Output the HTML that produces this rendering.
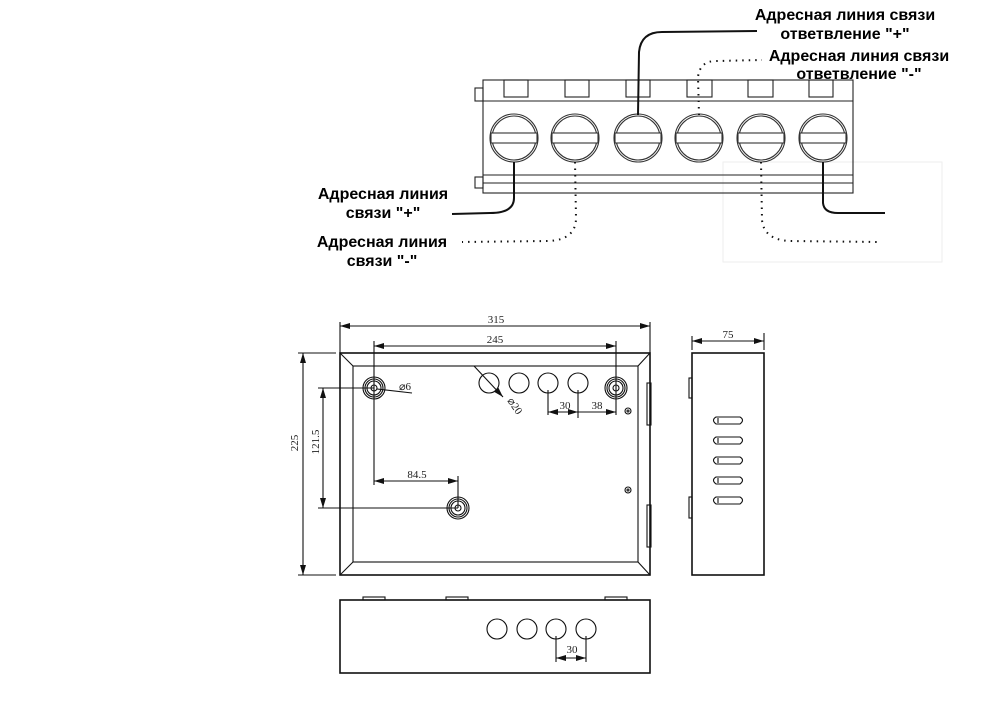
<!DOCTYPE html>
<html><head><meta charset="utf-8"><style>
body{margin:0;background:#fff}
svg{display:block}
.l{font-family:"Liberation Sans",Arial,sans-serif;font-weight:bold;font-size:16px;fill:#000}
.d{font-family:"Liberation Serif",serif;font-size:11px;fill:#222}
</style></head><body>
<svg width="995" height="707" viewBox="0 0 995 707" xmlns="http://www.w3.org/2000/svg">
<defs>
<marker id="a" viewBox="0 0 10 6" refX="10" refY="3" markerWidth="10" markerHeight="6" orient="auto-start-reverse" markerUnits="userSpaceOnUse"><path d="M0,0 L10,3 L0,6 z" fill="#111"/></marker>
</defs>
<rect x="723" y="162" width="219" height="100" fill="#fff" stroke="#eee" stroke-width="1"/>
<g stroke="#222" fill="none" stroke-width="1.1">
<rect x="483" y="80" width="370" height="113"/>
<line x1="483" y1="101" x2="853" y2="101"/>
<line x1="483" y1="175" x2="853" y2="175"/>
<line x1="483" y1="183" x2="853" y2="183"/>
<rect x="475" y="88" width="8" height="13"/>
<rect x="475" y="177" width="8" height="11"/>
<rect x="504" y="80" width="24" height="17"/>
<rect x="565" y="80" width="24" height="17"/>
<rect x="626" y="80" width="24" height="17"/>
<rect x="687" y="80" width="25" height="17"/>
<rect x="748" y="80" width="25" height="17"/>
<rect x="809" y="80" width="24" height="17"/>
</g>
<g stroke="#333" fill="#fff" stroke-width="1.1">
<g id="s"><circle cx="514" cy="138" r="24"/><circle cx="514" cy="138" r="22"/><rect x="491" y="133" width="46" height="10"/></g>
<use href="#s" x="61"/><use href="#s" x="124"/><use href="#s" x="185"/><use href="#s" x="247"/><use href="#s" x="309"/>
</g>
<g fill="none" stroke="#111" stroke-width="2">
<path d="M514,162 L514,198 Q514,213 490,213 L452,214"/>
<path d="M638,115 L639,52 Q641,32 662,32 L757,31"/>
<path d="M823,162 L823,203 Q824,213 838,213 L885,213"/>
</g>
<g fill="none" stroke="#111" stroke-width="2" stroke-dasharray="1.5 5">
<path d="M575,162 L576,218 Q576,240 548,241 L462,242"/>
<path d="M699,115 L698,77 Q700,61 716,61 L762,60"/>
<path d="M761,162 L762,220 Q764,240 790,241 L880,242"/>
</g>
<text class="l" x="845" y="20" text-anchor="middle">Адресная линия связи</text>
<text class="l" x="845" y="39" text-anchor="middle">ответвление "+"</text>
<text class="l" x="859" y="61" text-anchor="middle">Адресная линия связи</text>
<text class="l" x="859" y="79" text-anchor="middle">ответвление "-"</text>
<text class="l" x="383" y="199" text-anchor="middle">Адресная линия</text>
<text class="l" x="383" y="218" text-anchor="middle">связи "+"</text>
<text class="l" x="382" y="247" text-anchor="middle">Адресная линия</text>
<text class="l" x="382" y="266" text-anchor="middle">связи "-"</text>

<g stroke="#111" fill="none" stroke-width="1.1">
<rect x="340" y="353" width="310" height="222" stroke-width="1.6"/>
<rect x="353" y="366" width="285" height="196"/>
<line x1="340" y1="353" x2="353" y2="366"/><line x1="650" y1="353" x2="638" y2="366"/>
<line x1="340" y1="575" x2="353" y2="562"/><line x1="650" y1="575" x2="638" y2="562"/>
<rect x="647" y="383" width="4" height="42"/><rect x="647" y="505" width="4" height="42"/>
<g id="m"><circle cx="374" cy="388" r="11"/><circle cx="374" cy="388" r="9"/><circle cx="374" cy="388" r="7"/><circle cx="374" cy="388" r="3"/></g>
<use href="#m" x="242"/><use href="#m" x="84" y="120"/>
<circle cx="489" cy="383" r="10"/><circle cx="519" cy="383" r="10"/><circle cx="548" cy="383" r="10"/><circle cx="578" cy="383" r="10"/>
<circle cx="628" cy="411" r="3"/><circle cx="628" cy="411" r="1"/>
<circle cx="628" cy="490" r="3"/><circle cx="628" cy="490" r="1"/>
<line x1="340" y1="322" x2="340" y2="353"/><line x1="650" y1="322" x2="650" y2="353"/>
<line x1="340" y1="326" x2="650" y2="326" marker-start="url(#a)" marker-end="url(#a)"/>
<line x1="374" y1="341" x2="374" y2="485"/><line x1="616" y1="341" x2="616" y2="415"/>
<line x1="374" y1="346" x2="616" y2="346" marker-start="url(#a)" marker-end="url(#a)"/>
<line x1="548" y1="390" x2="548" y2="415"/><line x1="578" y1="390" x2="578" y2="418"/>
<line x1="548" y1="412" x2="578" y2="412" marker-start="url(#a)" marker-end="url(#a)"/>
<line x1="578" y1="412" x2="616" y2="412" marker-end="url(#a)"/>
<line x1="458" y1="476" x2="458" y2="508"/>
<line x1="374" y1="481" x2="458" y2="481" marker-start="url(#a)" marker-end="url(#a)"/>
<line x1="318" y1="388" x2="374" y2="388"/><line x1="318" y1="508" x2="458" y2="508"/>
<line x1="323" y1="388" x2="323" y2="508" marker-start="url(#a)" marker-end="url(#a)"/>
<line x1="298" y1="353" x2="336" y2="353"/><line x1="298" y1="575" x2="336" y2="575"/>
<line x1="303" y1="353" x2="303" y2="575" marker-start="url(#a)" marker-end="url(#a)"/>
<line x1="474" y1="366" x2="503" y2="397" marker-end="url(#a)"/>
<line x1="377" y1="389" x2="412" y2="393"/>
<rect x="692" y="353" width="72" height="222" stroke-width="1.6"/>
<rect x="689" y="378" width="3" height="20"/><rect x="689" y="497" width="3" height="21"/>
<line x1="692" y1="336" x2="692" y2="350"/><line x1="764" y1="333" x2="764" y2="350"/>
<line x1="692" y1="341" x2="764" y2="341" marker-start="url(#a)" marker-end="url(#a)"/>
<g id="sl"><path d="M716,417 L740,417 Q745,420 740,424 L716,424 Q711,420 716,417 Z"/><line x1="718" y1="418" x2="718" y2="423"/></g>
<use href="#sl" y="20"/><use href="#sl" y="40"/><use href="#sl" y="60"/><use href="#sl" y="80"/>
<rect x="340" y="600" width="310" height="73" stroke-width="1.6"/>
<rect x="363" y="597" width="22" height="3"/><rect x="446" y="597" width="22" height="3"/><rect x="605" y="597" width="22" height="3"/>
<circle cx="497" cy="629" r="10"/><circle cx="527" cy="629" r="10"/><circle cx="556" cy="629" r="10"/><circle cx="586" cy="629" r="10"/>
<line x1="556" y1="636" x2="556" y2="662"/><line x1="586" y1="636" x2="586" y2="662"/>
<line x1="556" y1="658" x2="586" y2="658" marker-start="url(#a)" marker-end="url(#a)"/>
</g>
<text class="d" x="496" y="323" text-anchor="middle">315</text>
<text class="d" x="495" y="343" text-anchor="middle">245</text>
<text class="d" x="565" y="409" text-anchor="middle">30</text>
<text class="d" x="597" y="409" text-anchor="middle">38</text>
<text class="d" x="417" y="478" text-anchor="middle">84.5</text>
<text class="d" x="405" y="390" text-anchor="middle">⌀6</text>
<text class="d" x="512" y="408" text-anchor="middle" transform="rotate(55 512 408)">⌀20</text>
<text class="d" x="0" y="0" text-anchor="middle" transform="translate(319 442) rotate(-90)">121.5</text>
<text class="d" x="0" y="0" text-anchor="middle" transform="translate(298 443) rotate(-90)">225</text>
<text class="d" x="728" y="338" text-anchor="middle">75</text>
<text class="d" x="572" y="653" text-anchor="middle">30</text>
</svg>
</body></html>
